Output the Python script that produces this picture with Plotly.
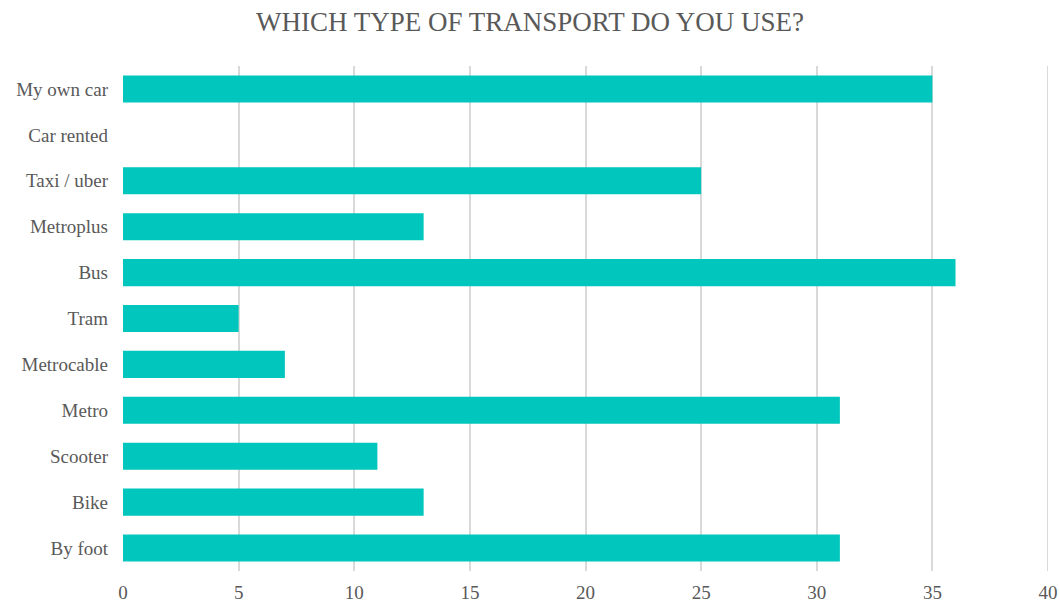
import plotly.graph_objects as go

# Survey answers, listed bottom-to-top as drawn on the category axis
categories = ["By foot", "Bike", "Scooter", "Metro", "Metrocable", "Tram",
              "Bus", "Metroplus", "Taxi / uber", "Car rented", "My own car"]
counts = [31, 13, 11, 31, 7, 5, 36, 13, 25, 0, 35]
x_ticks = [0, 5, 10, 15, 20, 25, 30, 35, 40]

BAR_COLOR = "#00C6BD"
TEXT_COLOR = "#595959"
GRID_COLOR = "#D9D9D9"
FONT = "Times New Roman"

fig = go.Figure(
    go.Bar(
        x=counts,
        y=categories,
        orientation="h",
        marker=dict(color=BAR_COLOR, line=dict(width=0)),
        hoverinfo="x+y",
    )
)

fig.update_layout(
    width=1060,
    height=608,
    margin=dict(l=123, r=12, t=66, b=37, autoexpand=False),
    paper_bgcolor="white",
    plot_bgcolor="white",
    bargap=0.41,
    showlegend=False,
    title=dict(
        text="WHICH TYPE OF TRANSPORT DO YOU USE?",
        x=0.5,
        xanchor="center",
        y=0.965,
        yanchor="middle",
        font=dict(family=FONT, size=27, color=TEXT_COLOR),
    ),
    font=dict(family=FONT, size=19, color=TEXT_COLOR),
)

# gridline at the far end of the value axis (plotly skips it at the range edge)
fig.add_shape(
    type="line", xref="x", yref="paper",
    x0=x_ticks[-1], x1=x_ticks[-1], y0=0, y1=1,
    line=dict(color=GRID_COLOR, width=2), layer="below",
)

fig.update_xaxes(
    range=[0, 40],
    tickvals=x_ticks,
    showgrid=True,
    gridcolor=GRID_COLOR,
    gridwidth=2,
    zeroline=False,
    showline=False,
    ticks="",
    automargin=False,
    ticklabelstandoff=8,
    tickfont=dict(family=FONT, size=19, color=TEXT_COLOR),
    fixedrange=True,
)

fig.update_yaxes(
    categoryorder="array",
    categoryarray=categories,
    showgrid=False,
    zeroline=False,
    showline=False,
    ticks="",
    automargin=False,
    ticklabelstandoff=14,
    tickfont=dict(family=FONT, size=19, color=TEXT_COLOR),
    fixedrange=True,
)

fig.write_html("out.html")
